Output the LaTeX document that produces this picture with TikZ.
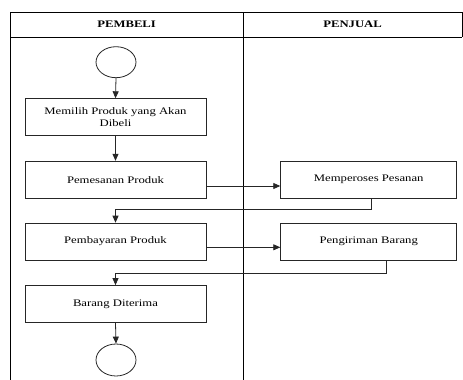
\documentclass[tikz,border=0pt]{standalone}
\usepackage{fontspec}
\setmainfont{Liberation Serif}[FakeStretch=1.27]
\usetikzlibrary{arrows.meta}
\begin{document}
\begin{tikzpicture}[x=1pt,y=-1pt,
  frame/.style={line width=0.9pt,black},
  actbox/.style={draw=black!85,line width=0.8pt,minimum width=181pt,minimum height=37pt,align=center,inner sep=0pt,font=\fontsize{10}{11.5}\selectfont},
  pbox/.style={actbox,minimum width=176pt},
  endpt/.style={draw=black!85,line width=0.8pt,ellipse,minimum width=40pt,minimum height=31pt,inner sep=0pt},
  hdr/.style={font=\fontsize{10}{12}\selectfont\bfseries},
  flow/.style={draw=black!85,line width=0.8pt,-{Triangle[length=7pt,width=6pt]}}
]
\useasboundingbox (0,0) rectangle (463,380);
% frame
\draw[frame] (10,380) -- (10,12) -- (462,12) -- (462,37);
\draw[frame] (10,37) -- (462,37);
\draw[frame] (243.3,12) -- (243.3,380);
\node[hdr] (h1) at (126.6,24.5) {PEMBELI};
\node[hdr] (h2) at (352.6,24.5) {PENJUAL};
% nodes
\node[draw=black!85,line width=0.8pt,circle,minimum size=31pt,inner sep=0pt,xscale=1.29] (s) at (116,62.2) {};
\node[actbox] (b1) at (115.5,117.2) {Memilih Produk yang Akan\\Dibeli};
\node[actbox] (b2) at (115.5,179.7) {Pemesanan Produk};
\node[pbox] (p1) at (368.7,179.7) {Memperoses Pesanan};
\node[actbox] (b3) at (115.5,241.6) {Pembayaran Produk};
\node[pbox] (p2) at (368.7,241.6) {Pengiriman Barang};
\node[actbox] (b4) at (115.5,304) {Barang Diterima};
\node[draw=black!85,line width=0.8pt,circle,minimum size=32pt,inner sep=0pt,xscale=1.25] (e) at (116,360) {};
% connectors
\draw[flow] (s.south) -- (b1.north);
\draw[flow] (b1.south) -- (b2.north);
\draw[flow] ([yshift=-6.3pt]b2.east) -- ([yshift=-6.3pt]p1.west);
\coordinate (k1) at ([xshift=2.3pt]p1.south);
\draw[flow] (k1) -- ++(0,10.5) -| (b3.north);
\draw[flow] ([yshift=-5.7pt]b3.east) -- ([yshift=-5.7pt]p2.west);
\coordinate (k2) at ([xshift=17.3pt]p2.south);
\draw[flow] (k2) -- ++(0,13.3) -| (b4.north);
\draw[flow] (b4.south) -- (e.north);
\end{tikzpicture}
\end{document}
